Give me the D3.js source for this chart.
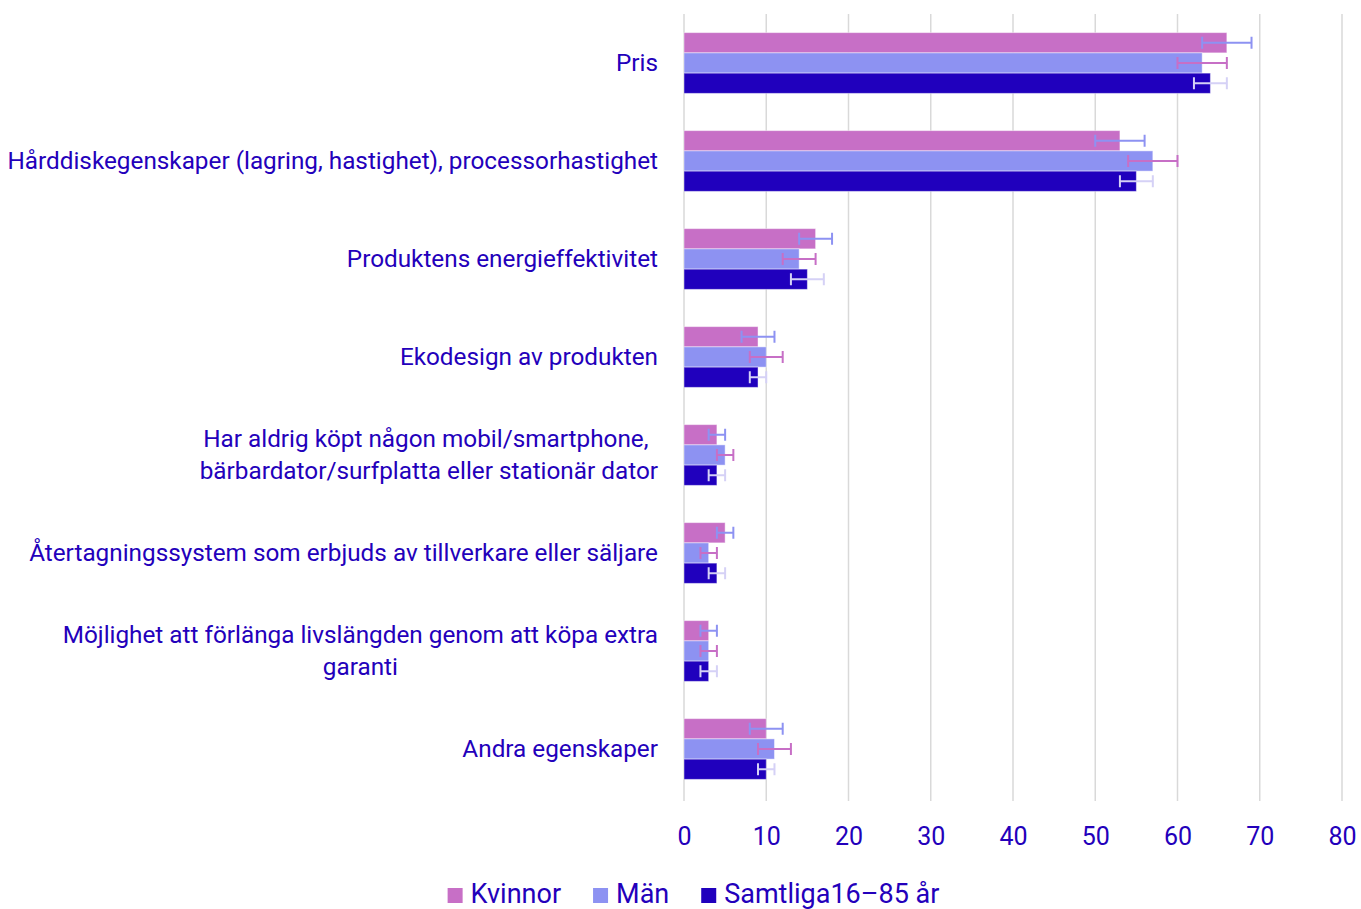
<!DOCTYPE html>
<html>
<head>
<meta charset="utf-8">
<script src="https://cdn.jsdelivr.net/npm/d3@7"></script>
<style>
  body { margin: 0; background: #fff; }
  text { font-family: Roboto, 'Noto Sans', sans-serif; }
</style>
</head>
<body>
<div id="chart"></div>
<script>
// categories (each entry is a list of label lines)
const categories = [
  ['Pris'],
  ['Hårddiskegenskaper (lagring, hastighet), processorhastighet'],
  ['Produktens energieffektivitet'],
  ['Ekodesign av produkten'],
  ['Har aldrig köpt någon mobil/smartphone, ', 'bärbardator/surfplatta eller stationär dator'],
  ['Återtagningssystem som erbjuds av tillverkare eller säljare'],
  ['Möjlighet att förlänga livslängden genom att köpa extra', 'garanti'],
  ['Andra egenskaper']
]
const seriesNames = ['Kvinnor', 'Män', 'Samtliga16–85 år']

const kvinnor = [66, 53, 16, 9, 4, 5, 3, 10]
const kvinnorLow = [63, 50, 14, 7, 3, 4, 2, 8]
const kvinnorHigh = [69, 56, 18, 11, 5, 6, 4, 12]

const man = [63, 57, 14, 10, 5, 3, 3, 11]
const manLow = [60, 54, 12, 8, 4, 2, 2, 9]
const manHigh = [66, 60, 16, 12, 6, 4, 4, 13]

const samtliga = [64, 55, 15, 9, 4, 4, 3, 10]
const samtligaLow = [62, 53, 13, 8, 3, 3, 2, 9]
const samtligaHigh = [66, 57, 17, 10, 5, 5, 4, 11]

const xTicks = [0, 10, 20, 30, 40, 50, 60, 70, 80]

const barColors = ['#c76fc6', '#8d92f2', '#2000bd']
// the error bars use other colours than their own bar
const errColors = ['#8d92f2', '#c76fc6', '#d5d1f6']
const textColor = '#2300bb'

const series = [
  { name: seriesNames[0], values: kvinnor, low: kvinnorLow, high: kvinnorHigh },
  { name: seriesNames[1], values: man, low: manLow, high: manHigh },
  { name: seriesNames[2], values: samtliga, low: samtligaLow, high: samtligaHigh }
]

const W = 1361
const H = 909
const margin = { top: 14, left: 684, right: 19, bottom: 111 }
const width = W - margin.left - margin.right
const height = H - margin.top - margin.bottom

const svgRoot = d3
  .select('#chart')
  .append('svg')
  .attr('width', W)
  .attr('height', H)

const svg = svgRoot
  .append('g')
  .attr('transform', 'translate(' + margin.left + ',' + margin.top + ')')

const xPositionScale = d3.scaleLinear().domain([0, 80]).range([0, width])

const yPositionScale = d3
  .scaleBand()
  .domain(d3.range(categories.length))
  .range([0, height])
  .paddingInner(0.38)
  .paddingOuter(0.19)

const innerScale = d3
  .scaleBand()
  .domain(d3.range(series.length))
  .range([0, yPositionScale.bandwidth()])

// gridlines
svg
  .selectAll('.grid')
  .data(xTicks)
  .enter()
  .append('line')
  .attr('class', 'grid')
  .attr('x1', d => xPositionScale(d))
  .attr('x2', d => xPositionScale(d))
  .attr('y1', 0)
  .attr('y2', height + 3)
  .attr('stroke', '#d9d9d9')
  .attr('stroke-width', 1.5)

// bars
const groups = svg
  .selectAll('.group')
  .data(categories)
  .enter()
  .append('g')
  .attr('class', 'group')
  .attr('transform', (d, i) => 'translate(0,' + yPositionScale(i) + ')')

series.forEach((s, si) => {
  groups
    .append('rect')
    .attr('x', 0)
    .attr('y', innerScale(si))
    .attr('width', (d, i) => xPositionScale(s.values[i]))
    .attr('height', innerScale.bandwidth())
    .attr('fill', barColors[si])
    .attr('stroke', 'rgba(255,255,255,0.45)')
    .attr('stroke-width', 1)
})

// error bars
series.forEach((s, si) => {
  const eg = groups.append('g').attr('stroke', errColors[si]).attr('stroke-width', 2)
  const cy = innerScale(si) + innerScale.bandwidth() / 2
  eg.append('line')
    .attr('x1', (d, i) => xPositionScale(s.low[i]))
    .attr('x2', (d, i) => xPositionScale(s.high[i]))
    .attr('y1', cy)
    .attr('y2', cy)
  eg.append('line')
    .attr('x1', (d, i) => xPositionScale(s.low[i]))
    .attr('x2', (d, i) => xPositionScale(s.low[i]))
    .attr('y1', cy - 6)
    .attr('y2', cy + 6)
  eg.append('line')
    .attr('x1', (d, i) => xPositionScale(s.high[i]))
    .attr('x2', (d, i) => xPositionScale(s.high[i]))
    .attr('y1', cy - 6)
    .attr('y2', cy + 6)
})

// x axis
const xAxis = d3.axisBottom(xPositionScale).tickValues(xTicks).tickSize(0).tickPadding(29)
const xg = svg
  .append('g')
  .attr('class', 'axis x-axis')
  .attr('transform', 'translate(0,' + height + ')')
  .call(xAxis)
xg.select('.domain').remove()
xg.selectAll('text')
  .attr('fill', textColor)
  .style('font-size', '25px')

// category labels
const labelRight = -26
const labels = svg
  .selectAll('.cat-label')
  .data(categories)
  .enter()
  .append('text')
  .attr('class', 'cat-label')
  .attr('fill', textColor)
  .style('font-size', '24.3px')
  .attr('y', (d, i) => yPositionScale(i) + yPositionScale.bandwidth() / 2)

labels.each(function (lines) {
  const t = d3.select(this)
  const lh = 32
  lines.forEach((line, li) => {
    t.append('tspan')
      .attr('dy', li === 0 ? ((-(lines.length - 1) * lh) / 2 + 7.5) : lh)
      .text(line)
  })
  if (lines.length === 1) {
    t.attr('text-anchor', 'end').selectAll('tspan').attr('x', labelRight)
  } else {
    const maxW = d3.max(t.selectAll('tspan').nodes(), n => n.getComputedTextLength())
    t.attr('text-anchor', 'middle').selectAll('tspan').attr('x', labelRight - maxW / 2)
  }
})

// legend
const legend = svgRoot.append('g').attr('transform', 'translate(0,' + 894 + ')')
const legendItems = legend
  .selectAll('.leg')
  .data(series)
  .enter()
  .append('g')
  .attr('class', 'leg')

legendItems
  .append('rect')
  .attr('y', -6)
  .attr('width', 15)
  .attr('height', 15)
  .attr('fill', (d, i) => barColors[i])
legendItems
  .append('text')
  .attr('x', 23)
  .attr('y', 9)
  .attr('fill', textColor)
  .style('font-size', '27px')
  .text(d => d.name)

// place legend items one after another, centred
let xCursor = 0
const positions = []
legendItems.each(function () {
  const w = this.getBBox().width
  positions.push(xCursor)
  xCursor += w + 32
})
const totalW = xCursor - 32
const startX = (W - totalW) / 2 + 13
legendItems.attr('transform', (d, i) => 'translate(' + (startX + positions[i]) + ',0)')
</script>
</body>
</html>
